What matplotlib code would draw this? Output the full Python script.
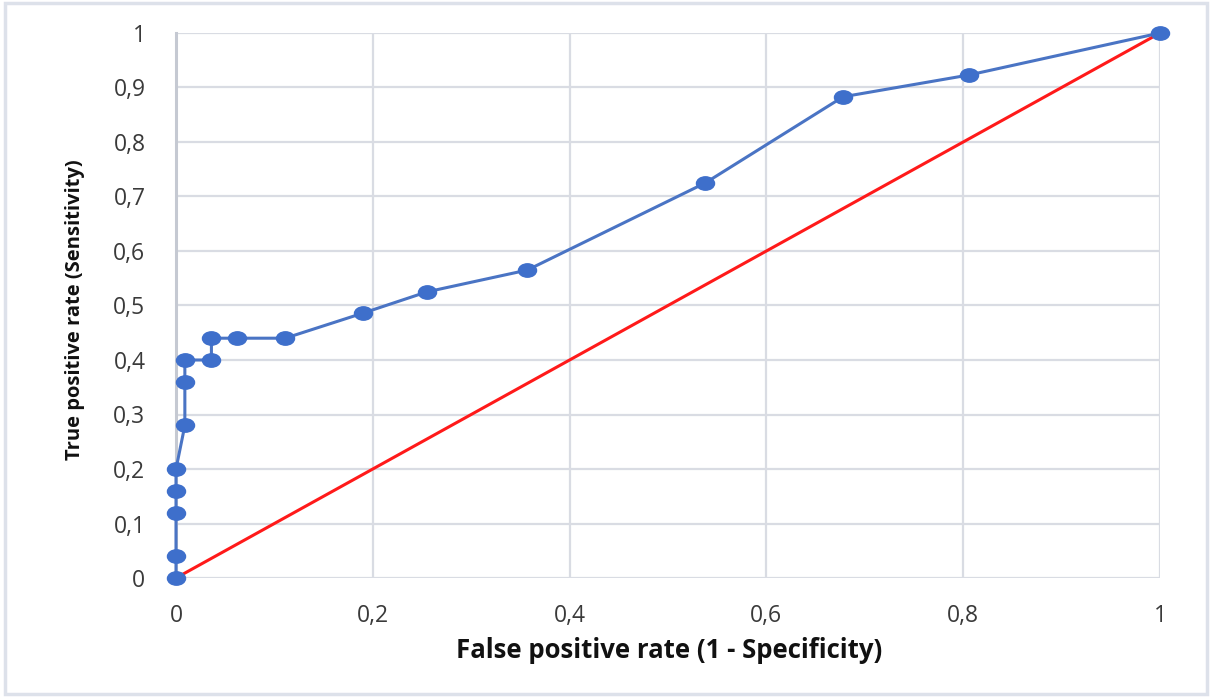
import matplotlib
matplotlib.use("Agg")
import matplotlib.pyplot as plt
from matplotlib.path import Path
from matplotlib.patches import Rectangle
import numpy as np

fpr = [0, 0, 0, 0, 0, 0.009, 0.009, 0.009, 0.036, 0.036, 0.062, 0.111,
       0.190, 0.255, 0.357, 0.538, 0.678, 0.806, 1.0]
tpr = [0, 0.04, 0.12, 0.16, 0.20, 0.28, 0.36, 0.40, 0.40, 0.44, 0.44, 0.44,
       0.486, 0.525, 0.565, 0.725, 0.883, 0.923, 1.0]
ref_x = [0, 1]
ref_y = [0, 1]
xticks = [0, 0.2, 0.4, 0.6, 0.8, 1]
xticklabels = ["0", "0,2", "0,4", "0,6", "0,8", "1"]
yticks = [0, 0.1, 0.2, 0.3, 0.4, 0.5, 0.6, 0.7, 0.8, 0.9, 1]
yticklabels = ["0", "0,1", "0,2", "0,3", "0,4", "0,5", "0,6", "0,7", "0,8", "0,9", "1"]

plt.rcParams['font.family'] = ['Open Sans', 'DejaVu Sans']

W, H = 1212, 697
fig = plt.figure(figsize=(W / 100, H / 100), dpi=100)
fig.patches.append(Rectangle((5 / W, 3 / H), (1207 - 5) / W, (694 - 3) / H,
                             transform=fig.transFigure, fill=False,
                             edgecolor='#dde1ea', linewidth=2.5))

left, right, top, bottom = 176, 1160, 33, 578
ax = fig.add_axes([left / W, 1 - bottom / H, (right - left) / W, (bottom - top) / H])

ax.set_xlim(0, 1)
ax.set_ylim(0, 1)
ax.set_xticks(xticks)
ax.set_xticklabels(xticklabels)
ax.set_yticks(yticks)
ax.set_yticklabels(yticklabels)
ax.grid(True, color='#d9dce3', linewidth=1.6, zorder=0)
ax.set_axisbelow(True)
for s in ['top', 'right', 'bottom']:
    ax.spines[s].set_visible(False)
ax.spines['left'].set_color('#c5c9d2')
ax.spines['left'].set_linewidth(2.2)
ax.tick_params(length=0, labelsize=16.5, colors='#3a3a3a')
ax.tick_params(axis='x', pad=19)
ax.tick_params(axis='y', pad=22)

# ellipse marker
circ = Path.unit_circle()
ell = Path(circ.vertices * np.array([1.35, 1.0]), circ.codes)

ax.plot(ref_x, ref_y, color='#ff1a1a', linewidth=2.2, zorder=3, clip_on=False)
ax.plot(fpr, tpr, color='#4a74c4', linewidth=2.2, marker=ell, markersize=13,
        markerfacecolor='#3e6fcb', markeredgecolor='#3e6fcb', zorder=4, clip_on=False)

fig.text(669 / W, 1 - 651 / H, "False positive rate (1 - Specificity)",
         ha='center', va='center', fontsize=18.5, fontweight='bold', color='#111111')
fig.text(75 / W, 1 - 310 / H, "True positive rate (Sensitivity)",
         ha='center', va='center', rotation=90, fontsize=14.5, fontweight='bold', color='#111111')

fig.savefig("out.png", dpi=100)
